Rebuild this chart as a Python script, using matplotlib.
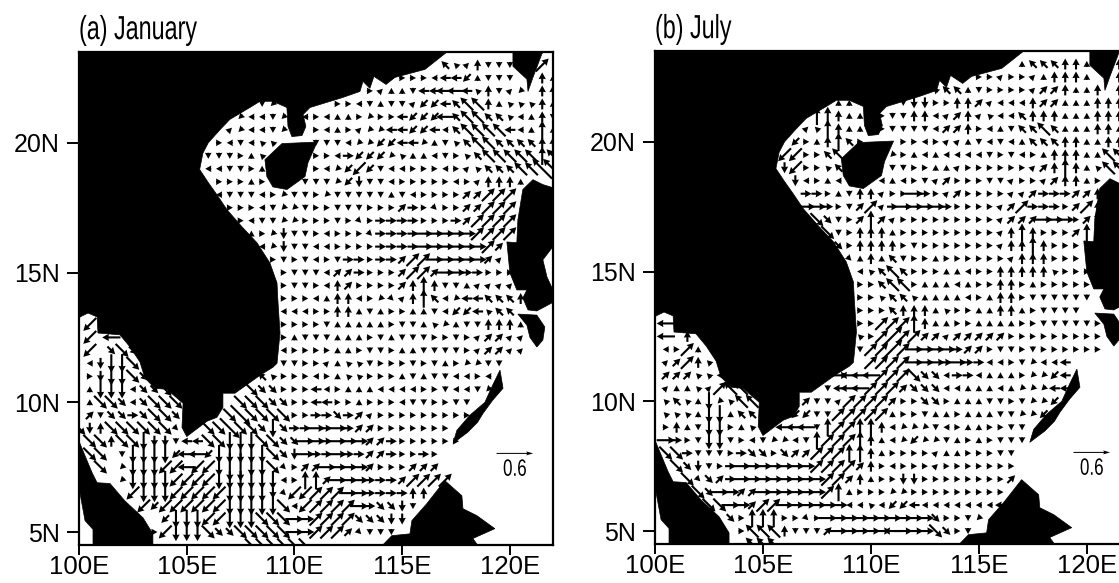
import numpy as np
import matplotlib
matplotlib.use('Agg')
import matplotlib.pyplot as plt
from matplotlib.patches import Polygon
from matplotlib.patheffects import AbstractPathEffect
from matplotlib.transforms import Affine2D

# land outlines, lon/lat
mainland = [(117.08,23.5),(116.06,22.83),(114.66,22.52),(114.25,22.25),(113.69,22.56),(113.5,22.1),(113.18,22.37),
            (113.04,21.98),(112.25,21.75),(110.72,21.36),(110.4,21.09),(110.53,20.63),(110.35,20.28),(109.88,20.24),
            (109.7,20.63),(109.65,21.36),(109.0,21.6),(108.4,21.6),(107.93,21.36),(107.0,20.9),(106.54,20.5),
            (106.0,20.0),(105.75,19.6),(105.6,18.97),(106.0,18.47),(106.4,18.0),(106.87,17.42),(107.6,16.73),
            (108.26,16.15),(108.86,15.37),(109.19,14.6),(109.23,13.94),(109.33,12.67),(109.19,11.5),(109.0,11.35),
            (108.4,11.04),(107.24,10.35),(106.68,10.35),(106.68,9.8),(106.4,9.42),(105.94,9.27),(105.0,8.68),
            (104.78,9.03),(104.83,9.96),(104.08,10.5),(103.53,10.54),(103.06,10.93),(102.83,11.55),(102.37,12.13),
            (101.9,12.6),(100.88,12.67),(100.84,13.29),(100.42,13.44),(100.05,13.29),(100,13.2),(100,23.5)]
malay = [(100,8.5),(100.6,7.3),(100.84,6.9),(101.44,6.87),(102.13,6.2),(102.97,5.55),(103.43,4.93),(103.43,4.5),
         (100.65,4.5),(100.65,5.1),(100.28,5.44),(100.05,6.48),(100,6.6)]
hainan = [(108.63,19.35),(109.42,19.97),(111.05,20.03),(110.63,19.24),(110.49,18.7),(109.65,18.2),(109.0,18.3),(108.72,18.7)]
taiwan = [(120.14,23.5),(120.14,22.95),(120.79,22.45),(120.84,21.98),(121.07,22.52),(121.48,23.42),(121.55,23.5)]
luzon = [(122,18.27),(121.53,18.39),(121.07,18.58),(120.6,18.2),(120.37,17.03),(120.32,16.15),(119.86,16.18),(120.0,14.99),
         (120.32,14.33),(120.79,14.33),(120.6,14.02),(120.84,13.56),(121.25,13.52),(121.95,13.83),(122,14.33),(121.72,14.83),
         (121.53,15.49),(122,16.0)]
mindoro = [(120.37,13.4),(121.25,13.36),(121.62,12.9),(121.53,12.4),(121.25,12.13),(120.93,12.5),(120.79,12.97)]
palawan = [(119.54,11.24),(119.68,10.54),(119.2,10.08),(118.75,9.57),(118.5,9.23),(118.05,8.85),(117.36,8.42),(117.54,8.92),
           (118.14,9.5),(118.84,10.0),(119.2,10.66)]
borneo = [(114.1,4.5),(114.52,4.86),(115.36,4.93),(115.45,5.44),(116.15,6.1),(116.98,6.98),(117.77,6.4),(117.82,5.9),
          (118.47,5.63),(119.3,5.13),(118.28,4.75),(118.5,4.5)]
land = [mainland, malay, hainan, taiwan, luzon, mindoro, palawan, borneo]

# currents, one string per latitude row, column = lon 100 + 0.5*(start+k)
# a-h small, A-H medium, 1-8 long, i-p very long; order E NE N NW W SW S SE
row_lats = [23 - 0.5 * k for k in range(38)]

jan_start = [34,29,27,17,15,14,13,12,12,13,13,14,15,16,17,18,19,19,19,19,1,1,1,1,1,1,1,1,0,1,1,2,4,5,6,8,7,16]
jan_cells = [
    "DdbCggg..2",
    "aaaaeEEFcggg..Cc",
    "abccgEE55EdCgbf.CC",
    "gf.....aaegcggbFFED44CcdddCc",
    "feegf.eaeccafaaEFFF5D44DDdecCg",
    "bfeegf..aecabffEEFFEeD4444Eec3c",
    "aegedd...gggeffFFEEfcgdD44DDDDCC",
    "gggacd....aaeAFFFfdccegadD4444434",
    "eeggac....aefF6FgeeaaaeabdDDD44ll",
    "aaaca...gggfFGggeaaaaaeabCCCc",
    "egggeafggafgggggcgeaaaaBB222",
    "aaaegffgaagggaaaBAahaaBB222",
    "aeggffaaagahaAAAAaaaAB2222",
    "cafGggaeaaahAAAA111112222",
    "efGggeeaaaaAAAA1111112B",
    "agageagAAaAAB2211111Bb",
    "agggeBBAaaaB22B11AAaaa",
    "aggaeCBaaaaBC3Cggcbbbb",
    "aaaecCCeafhbC3DefEEDDDC",
    "eeeaaCCcgcaaccgeFFEdDD",
    "6" + "." * 17 + "aaaagcccccaggcdfcggCCCc",
    "6.5" + "." * 15 + "acgggcccagcgggaagabBBbb",
    "6.H8H" + "." * 13 + "eaaaaccaggaccggggabBBbb",
    "eG778" + "." * 13 + "ggaabcddgaaagagcaffgg",
    "aG778H" + "." * 10 + "Ddaaaeacddaaacgcggeeae",
    "c777eHH88" + "." * 6 + "8HHaaaEeaccceeeeaageegf",
    "c88HeH888" + "." * 5 + "888HHaaEEaacaaaeggaagg",
    "BgHHAH88H" + "...." + "8p8888aaAAHABbaaaaaaaaa",
    "8GC888888h.." + "88p88H7HAA1A1ABBaaaaaaa",
    "88C887GGgEE8877788HH11A111BBAaaaaaa",
    "88.g7777F55F777778HG1AA1AABBAaaAa",
    "8.f77766566" + "7oo778haBB" + "1111BaaaBBB",
    "f77776666777777ea33B111AAAB2222",
    "6777666667777Gh6622211AAAACC",
    "6F666666777778e622221AHHGg",
    "F77766777888112222HHHGG",
    "a6777" + "8HH" + "88888" + "11" + "222" + "Bhggg",
    "888888",
]

jul_start = [34,30,26,17,15,14,13,12,12,13,14,14,15,16,17,18,19,19,19,19,1,1,1,1,1,1,1,1,1,1,1,2,3,4,5,7,8,9]
jul_cells = [
    "cDDDCCc..C",
    "aabaabcCCCc..C",
    "dDDcgaaaabBBCccC.C",
    "cc....gGGaaCCBbeeeCBBcccCCC",
    "33Ccc.aggCCebBCbdeeDCCCcccCCC",
    "bd3Ccc.aggggeBBCaecgDD4DcccCCc",
    "FacC3Da...aaeabbcgegecDDDCCccCC",
    "66aaD4....faceceeeegageacCCCcc44",
    "G6aadD....ggaaccbaaaaaabBC3Ccd44",
    "Geace...eceagbBaaaggbaabBCCca",
    "AAacgCCbaa1AabBaaaabbBAAABBC",
    "11AagB2bA1111AaaaabB2AAAaB2C",
    "8HgaB3Bb" + "aaaaaaaaa" + "bBBB111aB3",
    "8gaCCCc" + "aaaaaaaaa" + "bC3CaaaB3",
    "HaCCCCagaaaaaaabCC3Caaa",
    "hcCcDgaacaaaaaabCCCaaa",
    "edD4Daaacceaa" + "CCCCC" + "daaa",
    "aaD44acccecaaCCacaaaaa",
    "aadDDdcccceacCCagggggg",
    "aaaDCCCcdaaccCCcagggg",
    "5" + "." * 17 + "aa2223Cccaaccccaaggggga",
    "5.C" + "." * 15 + "da2j22BBbBBBBBaaaaaaaaa",
    "ea2c" + "." * 14 + "g22j21111ABBaggagaaaaaa",
    "bB2Cd" + "." * 14 + "2222111A1AAeeagfeeE",
    "BBBdde" + "." * 10 + "1555222" + "8HHeAAeccc" + "affFE",
    "bccdb2444" + "." * 6 + "gE55222BHHHeecccecfffEE",
    "dDdc7fd44" + "...." + "Bggb2222BaaHHacccggagffF",
    "dddc77cDD" + "..." + "FFgg22222caagccacccggffF",
    "aCcg77acd" + ".." + "555g32233C" + "efffgeaccaagg",
    "1Aag77gaegffeg" + "32223Cc" + "efFffgcacaggg",
    "88AgggaAHHaHBB22233Cc" + "aaaabccaaagg",
    "8HGgaA" + "1111111" + "2222BCa" + "eaaabaaaaaaa",
    "8hHBA" + "11111111" + "22BCc" + "aaGG" + "aaaaaaaa" + "B",
    "8H11BB" + "111111" + "23caaa" + "ff" + "aaaaaaaaa",
    "8811B22" + "111111" + "eedeFFE" + "eeeeeee" + "E",
    "Ha333aaha" + "1111111111" + "Haagf",
    "a444CgggB" + "11111" + "5" + "111" + "8Hag",
    "444",
]

speed_classes = [("abcdefgh", 0.10), ("ABCDEFGH", 0.18), ("12345678", 0.30), ("ijklmnop", 0.46)]
key_speed = 0.6

lon_ticks = [100, 105, 110, 115, 120]
lon_labels = ['100E', '105E', '110E', '115E', '120E']
lat_ticks = [5, 10, 15, 20]
lat_labels = ['5N', '10N', '15N', '20N']

W, H = 1119, 583
plt.rcParams['font.family'] = ['Liberation Sans', 'DejaVu Sans']


# narrow the glyphs sideways, the reference font is condensed
class Squeeze(AbstractPathEffect):
    def __init__(self, sx, x0):
        super().__init__()
        self.sx = sx
        self.x0 = x0

    def draw_path(self, renderer, gc, tpath, affine, rgbFace=None):
        squeeze = Affine2D().translate(-self.x0, 0).scale(self.sx, 1).translate(self.x0, 0)
        renderer.draw_path(gc, tpath, affine + squeeze, rgbFace)


def decode(start, cells):
    xs, ys, us, vs = [], [], [], []
    for lat, first, row in zip(row_lats, start, cells):
        for k, ch in enumerate(row):
            for letters, spd in speed_classes:
                if ch in letters:
                    ang = np.deg2rad(45 * letters.index(ch))
                    xs.append(100 + 0.5 * (first + k))
                    ys.append(lat)
                    us.append(spd * np.cos(ang))
                    vs.append(spd * np.sin(ang))
    return xs, ys, us, vs


def draw_panel(box, title, start, cells):
    left, top, right, bottom = box
    ax = fig.add_axes([left / W, 1 - bottom / H, (right - left) / W, (bottom - top) / H])
    for poly in land:
        ax.add_patch(Polygon(poly, closed=True, fc='black', ec='black', lw=0.5, zorder=1))
    xs, ys, us, vs = decode(start, cells)
    ax.quiver(xs, ys, us, vs, angles='uv', units='dots', width=2.1, scale_units='dots', scale=1 / 61.0,
              pivot='middle', headwidth=3.5, headlength=3.2, headaxislength=3.0, minlength=0, color='black', zorder=2)
    # reference arrow
    ax.quiver([120.23], [8.03], [key_speed], [0], angles='uv', units='dots', width=1.0, scale_units='dots',
              scale=1 / 61.0, pivot='middle', headwidth=4, headlength=7, headaxislength=6, color='black', zorder=2)
    key_x = left + (120.23 - 100) / 22 * (right - left)
    ax.text(120.23, 7.4, '0.6', ha='center', va='center', fontsize=17, path_effects=[Squeeze(0.72, key_x)])
    ax.set_xlim(100, 122)
    ax.set_ylim(4.5, 23.5)
    ax.set_xticks(lon_ticks)
    ax.set_xticklabels(lon_labels, fontsize=18.5)
    ax.set_yticks(lat_ticks)
    ax.set_yticklabels(lat_labels, fontsize=18)
    ax.tick_params(axis='x', length=7, width=1.4, pad=0)
    ax.tick_params(axis='y', length=9, width=1.4, pad=5)
    for s in ax.spines.values():
        s.set_linewidth(1.6)
    ax.text(0, 1.012, title, transform=ax.transAxes, ha='left', va='bottom', fontsize=24, path_effects=[Squeeze(0.7, left)])
    return ax


fig = plt.figure(figsize=(W / 100, H / 100), dpi=100)
draw_panel((79, 52, 553, 545), '(a) January', jan_start, jan_cells)
draw_panel((655, 51, 1130, 544), '(b) July', jul_start, jul_cells)
fig.savefig('out.png', dpi=100)
